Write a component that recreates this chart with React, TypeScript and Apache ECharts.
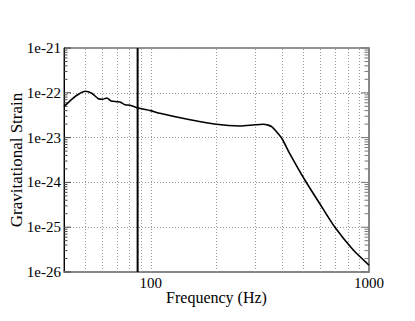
import React, { useEffect, useRef } from "react";
import * as echarts from "echarts";

// Noise curve (frequency in Hz, strain)
const freqs = [40, 43.4, 46.6, 50, 53.6, 57.5, 60, 62.8, 65.8, 69.8, 72.3, 76.2, 80.4, 86.3, 91, 100, 110, 140, 200, 256, 300, 327, 345, 358, 377, 400, 434, 508, 596, 698, 847, 1000];
const strains = [4.9e-23, 7.16e-23, 9.27e-23, 1.08e-22, 9.74e-23, 7.38e-23, 7.16e-23, 7.66e-23, 6.56e-23, 6.33e-23, 6.23e-23, 5.42e-23, 5.26e-23, 4.65e-23, 4.41e-23, 4.0e-23, 3.48e-23, 2.7e-23, 1.98e-23, 1.82e-23, 1.93e-23, 1.98e-23, 1.9e-23, 1.75e-23, 1.35e-23, 9.3e-24, 4.33e-24, 1.13e-24, 3.3e-25, 9.95e-26, 3.1e-26, 1.43e-26];

// Vertical marker frequency
const markerFreq = 87;

// Axis ranges and ticks
const xMin = 40;
const xMax = 1000;
const yMinExp = -26;
const yMaxExp = -21;
const xGridFreqs = [50, 60, 70, 80, 90, 100, 200, 300, 400, 500, 600, 700, 800, 900];
const yDecadeExps = [-26, -25, -24, -23, -22, -21];
const yMinorMultipliers = [2, 3, 4, 5, 6, 7, 8, 9];

// ECharts rounds very small numbers to 0 on log axes, so strain is plotted in units of 1e-26
const UNIT_EXP = -26;
const toUnits = (s: number) => s / Math.pow(10, UNIT_EXP);

const FONT = "Liberation Serif, Times New Roman, serif";

export default function App() {
  const ref = useRef<HTMLDivElement>(null);

  useEffect(() => {
    if (!ref.current) return;
    const chart = echarts.init(ref.current, null, { renderer: "svg" });

    const yMin = Math.pow(10, yMinExp - UNIT_EXP);
    const yMax = Math.pow(10, yMaxExp - UNIT_EXP);
    const curveData = freqs.map((f, i) => [f, toUnits(strains[i])]);
    const ticks: number[][] = [];
    yDecadeExps.slice(0, -1).forEach((e) => {
      yMinorMultipliers.forEach((m) => ticks.push([xMin, m * Math.pow(10, e - UNIT_EXP), 0]));
    });
    yDecadeExps.forEach((e) => ticks.push([xMin, Math.pow(10, e - UNIT_EXP), 1]));

    const isPow10 = (v: number) => Math.abs(Math.log10(v) - Math.round(Math.log10(v))) < 1e-6;

    chart.setOption({
      animation: false,
      textStyle: { fontFamily: FONT },
      grid: {
        left: 64,
        right: 46,
        top: 48,
        bottom: 49,
        containLabel: false,
        outerBoundsMode: "none",
        show: true,
        borderColor: "#222",
        borderWidth: 1,
        backgroundColor: "transparent",
      },
      xAxis: {
        type: "log",
        logBase: 10,
        min: xMin,
        max: xMax,
        name: "Frequency (Hz)",
        nameLocation: "middle",
        nameGap: 17,
        nameMoveOverlap: false,
        nameTextStyle: { fontFamily: FONT, fontSize: 16, color: "#000", verticalAlign: "top" },
        axisLine: { show: true, lineStyle: { color: "#888", width: 2 } },
        axisTick: { show: false },
        splitLine: { show: false },
        axisLabel: {
          fontFamily: FONT,
          fontSize: 15,
          color: "#000",
          margin: 3,
          showMinLabel: false,
          formatter: (v: number) => (isPow10(v) ? String(Math.round(v)) : ""),
        },
      },
      yAxis: [
        {
          type: "log",
          logBase: 10,
          min: yMin,
          max: yMax,
          name: "Gravitational Strain",
          nameLocation: "middle",
          nameGap: 39,
          nameMoveOverlap: false,
          nameRotate: 90,
          nameTextStyle: { fontFamily: FONT, fontSize: 17, color: "#000" },
          axisLine: { show: true, lineStyle: { color: "#000", width: 1 } },
          axisTick: { show: false },
          splitLine: { show: true, lineStyle: { color: "#999", type: [1, 2], width: 1 } },
          axisLabel: {
            fontFamily: FONT,
            fontSize: 15,
            color: "#000",
            margin: 3,
            formatter: (v: number) => "1e" + (Math.round(Math.log10(v)) + UNIT_EXP),
          },
        },
        {
          type: "log",
          logBase: 10,
          min: yMin,
          max: yMax,
          position: "right",
          axisLine: { show: true, lineStyle: { color: "#888", width: 2 } },
          axisTick: { show: false },
          splitLine: { show: false },
          axisLabel: { show: false },
        },
      ],
      series: [
        {
          type: "line",
          data: [
            [markerFreq, yMin],
            [markerFreq, yMax],
          ],
          symbol: "none",
          z: 4,
          lineStyle: { color: "#000", width: 2 },
          markLine: {
            silent: true,
            symbol: "none",
            label: { show: false },
            lineStyle: { color: "#999", type: [1, 2], width: 1 },
            data: xGridFreqs.map((f) => ({ xAxis: f })),
          },
        },
        {
          type: "custom",
          z: 5,
          data: ticks,
          renderItem: (_params: any, api: any) => {
            const v = api.value(1);
            const major = api.value(2) === 1;
            const pL = api.coord([xMin, v]);
            const pR = api.coord([xMax, v]);
            const len = major ? 7 : 3.5;
            return {
              type: "group",
              children: [
                {
                  type: "line",
                  shape: { x1: pL[0], y1: pL[1], x2: pL[0] + len, y2: pL[1] },
                  style: { stroke: "#444", lineWidth: 1 },
                },
                {
                  type: "line",
                  shape: { x1: pR[0] - len - 1, y1: pR[1], x2: pR[0], y2: pR[1] },
                  style: { stroke: "#777", lineWidth: 1 },
                },
              ],
            };
          },
        },
        {
          type: "line",
          data: curveData,
          symbol: "none",
          smooth: 0.25,
          z: 6,
          lineStyle: { color: "#000", width: 1.6 },
        },
      ],
    });

    return () => chart.dispose();
  }, []);

  return (
    <div
      ref={ref}
      style={{ position: "fixed", left: 0, top: 0, width: 415, height: 321, background: "#fff" }}
    />
  );
}
